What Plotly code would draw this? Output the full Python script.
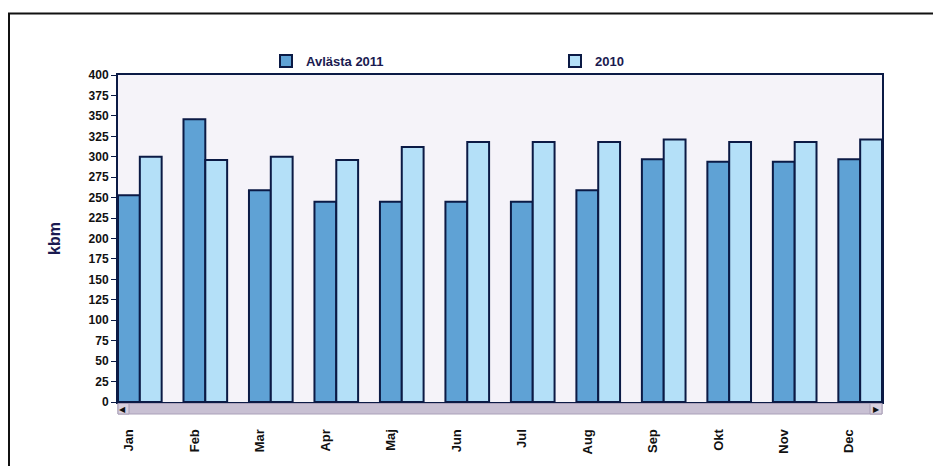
import plotly.graph_objects as go

months = ["Jan", "Feb", "Mar", "Apr", "Maj", "Jun", "Jul", "Aug", "Sep", "Okt", "Nov", "Dec"]
avlasta_2011 = [253, 346, 259, 245, 245, 245, 245, 259, 297, 294, 294, 297]
values_2010 = [300, 296, 300, 296, 312, 318, 318, 318, 321, 318, 318, 321]
y_ticks = list(range(0, 401, 25))

W, H = 933, 466
ML, MR, MT, MB = 118, 51, 75, 64
PW, PH = W - ML - MR, H - MT - MB


def px_x(px):
    return (px - ML) / PW


def px_y(py):
    return (H - MB - py) / PH


navy = "#0b1a45"
idx = list(range(len(months)))

fig = go.Figure()
fig.add_trace(go.Bar(x=idx, y=avlasta_2011, name="Avlästa 2011",
                     marker=dict(color="#5fa2d5", line=dict(color=navy, width=2))))
fig.add_trace(go.Bar(x=idx, y=values_2010, name="2010",
                     marker=dict(color="#b4e0f8", line=dict(color=navy, width=2))))

shapes = [
    # outer frame
    dict(type="rect", xref="paper", yref="paper", x0=px_x(9), x1=px_x(960),
         y0=px_y(500), y1=px_y(13.5), line=dict(color="#111111", width=2), layer="below"),
    # scrollbar
    dict(type="rect", xref="paper", yref="paper", x0=0, x1=1,
         y0=px_y(414), y1=px_y(403.5), fillcolor="#c8c0d3", line=dict(color="#aaa0b8", width=1)),
    dict(type="rect", xref="paper", yref="paper", x0=px_x(118), x1=px_x(129),
         y0=px_y(414), y1=px_y(403.5), fillcolor="#d8d1e0", line=dict(color="#a89eb6", width=1)),
    dict(type="rect", xref="paper", yref="paper", x0=px_x(870), x1=px_x(882),
         y0=px_y(414), y1=px_y(403.5), fillcolor="#d8d1e0", line=dict(color="#a89eb6", width=1)),
]

annotations = [
    dict(text="◀", xref="paper", yref="paper", x=px_x(122.5), y=px_y(409),
         showarrow=False, font=dict(size=8, color="#111111"), xanchor="center", yanchor="middle"),
    dict(text="▶", xref="paper", yref="paper", x=px_x(876), y=px_y(409),
         showarrow=False, font=dict(size=8, color="#111111"), xanchor="center", yanchor="middle"),
]

fig.update_layout(
    width=W, height=H,
    margin=dict(l=ML, r=MR, t=MT, b=MB),
    paper_bgcolor="white",
    plot_bgcolor="#f5f3f9",
    barmode="group", bargap=1 / 3, bargroupgap=0,
    font=dict(family="Liberation Sans, Arial, sans-serif", color="#111133"),
    showlegend=True,
    legend=dict(orientation="h", x=px_x(266), xanchor="left", y=px_y(61), yanchor="middle",
                font=dict(size=13, color="#1a1a50", family="Liberation Sans, Arial, sans-serif", weight="bold"),
                entrywidth=244, entrywidthmode="pixels", bgcolor="rgba(0,0,0,0)",
                itemclick=False),
    shapes=shapes,
    annotations=annotations,
    xaxis=dict(range=[-1 / 3, len(months) - 1 + 1 / 3],
               tickmode="array", tickvals=[i - 1 / 6 for i in idx], ticktext=months,
               tickangle=-90, ticks="", ticklabelstandoff=20,
               tickfont=dict(size=13, color="#111111", weight="bold"),
               showline=True, linecolor=navy, linewidth=2, mirror=True,
               showgrid=False, zeroline=False, fixedrange=True),
    yaxis=dict(range=[0, 400], tickmode="array", tickvals=y_ticks,
               ticks="outside", ticklen=5, tickcolor=navy, tickwidth=1,
               tickfont=dict(size=12, color="#111111", weight="bold"),
               showline=True, linecolor=navy, linewidth=2, mirror=True,
               showgrid=False, zeroline=False,
               title=dict(text="kbm", standoff=24,
                          font=dict(size=16, color="#1a1a50", weight="bold"))),
)

fig.write_html("out.html")
